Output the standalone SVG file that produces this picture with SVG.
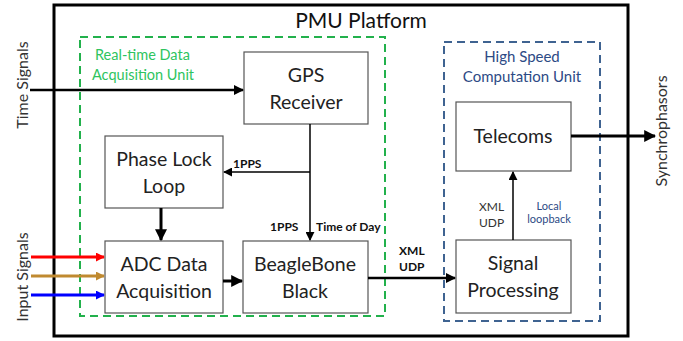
<svg xmlns="http://www.w3.org/2000/svg" width="683" height="341" viewBox="0 0 683 341">
<defs>
<style>
text{font-family:Lato,"Open Sans","Liberation Sans",sans-serif;}
.box{fill:#fff;stroke:#555;stroke-width:1.2;}
.lbl{font-size:19.5px;fill:#222;text-anchor:middle;}
.small{font-size:12px;font-weight:bold;fill:#111;}
.side{font-size:16px;fill:#333;text-anchor:middle;}
.ln{stroke:#000;fill:none;}
.grn{font-size:14.5px;fill:#2ec45e;}
.blu{font-size:15px;fill:#2d4a85;text-anchor:middle;}
</style>
<marker id="ah" viewBox="0 0 10 10" refX="9" refY="5" markerWidth="4" markerHeight="4" orient="auto"><path d="M0,0L10,5L0,10z" fill="#000"/></marker>
<marker id="ahs" viewBox="0 0 10 10" refX="9" refY="5" markerWidth="6" markerHeight="6" orient="auto"><path d="M0,0L10,5L0,10z" fill="#000"/></marker>
<marker id="ahr" viewBox="0 0 10 10" refX="9" refY="5" markerWidth="3" markerHeight="3" orient="auto"><path d="M0,0L10,5L0,10z" fill="#ff0000"/></marker>
<marker id="ahb" viewBox="0 0 10 10" refX="9" refY="5" markerWidth="3" markerHeight="3" orient="auto"><path d="M0,0L10,5L0,10z" fill="#c08a30"/></marker>
<marker id="ahu" viewBox="0 0 10 10" refX="9" refY="5" markerWidth="3" markerHeight="3" orient="auto"><path d="M0,0L10,5L0,10z" fill="#0000ff"/></marker>
</defs>
<rect width="683" height="341" fill="#fff"/>
<g id="platform">
<rect x="54" y="5" width="574" height="331" fill="none" stroke="#000" stroke-width="3"/>
<text x="361" y="28" font-size="21" text-anchor="middle" fill="#111">PMU Platform</text>
</g>
<g id="rt-unit">
<rect x="80" y="37" width="305" height="279" fill="none" stroke="#22b14c" stroke-width="2" stroke-dasharray="8,5"/>
<text class="grn" x="95" y="60">Real-time Data</text>
<text class="grn" x="92" y="80">Acquisition Unit</text>
</g>
<g id="hs-unit">
<rect x="444" y="42" width="156" height="279" fill="none" stroke="#3f6391" stroke-width="2" stroke-dasharray="8,5"/>
<text class="blu" x="522" y="62">High Speed</text>
<text class="blu" x="522" y="82">Computation Unit</text>
</g>
<g id="gps">
<rect class="box" x="244" y="52" width="124" height="72"/>
<text class="lbl" x="306" y="82">GPS</text>
<text class="lbl" x="306" y="109">Receiver</text>
</g>
<g id="pll">
<rect class="box" x="105" y="136" width="118" height="72"/>
<text class="lbl" x="164" y="166">Phase Lock</text>
<text class="lbl" x="164" y="193">Loop</text>
</g>
<g id="adc">
<rect class="box" x="105" y="241" width="118" height="72"/>
<text class="lbl" x="164" y="271">ADC Data</text>
<text class="lbl" x="164" y="298">Acquisition</text>
</g>
<g id="bbb">
<rect class="box" x="243" y="241" width="125" height="72"/>
<text class="lbl" x="305" y="271">BeagleBone</text>
<text class="lbl" x="305" y="298">Black</text>
</g>
<g id="telecoms">
<rect class="box" x="456" y="102" width="115" height="69"/>
<text class="lbl" x="513" y="143">Telecoms</text>
</g>
<g id="sp">
<rect class="box" x="456" y="240" width="115" height="73"/>
<text class="lbl" x="513" y="270">Signal</text>
<text class="lbl" x="513" y="297">Processing</text>
</g>
<g id="connectors">
<line class="ln" x1="30" y1="90" x2="243" y2="90" stroke-width="2.5" marker-end="url(#ah)"/>
<line class="ln" x1="310" y1="124" x2="310" y2="240" stroke-width="1.5" marker-end="url(#ahs)"/>
<line class="ln" x1="310" y1="172" x2="224" y2="172" stroke-width="1.5" marker-end="url(#ahs)"/>
<line class="ln" x1="161" y1="208" x2="161" y2="240" stroke-width="3" marker-end="url(#ah)"/>
<line class="ln" x1="223" y1="281" x2="242" y2="281" stroke-width="3" marker-end="url(#ah)"/>
<line class="ln" x1="368" y1="278" x2="455" y2="278" stroke-width="2.5" marker-end="url(#ah)"/>
<line class="ln" x1="513" y1="240" x2="513" y2="172" stroke-width="1.5" marker-end="url(#ahs)"/>
<line class="ln" x1="571" y1="136" x2="655" y2="136" stroke-width="3" marker-end="url(#ah)"/>
<line x1="31" y1="257" x2="104" y2="257" stroke="#ff0000" stroke-width="3" marker-end="url(#ahr)"/>
<line x1="31" y1="276" x2="104" y2="276" stroke="#c08a30" stroke-width="3" marker-end="url(#ahb)"/>
<line x1="31" y1="295" x2="104" y2="295" stroke="#0000ff" stroke-width="3" marker-end="url(#ahu)"/>
<text class="small" x="233" y="168">1PPS</text>
<text class="small" x="270" y="231">1PPS</text>
<text class="small" x="316" y="231">Time of Day</text>
<text class="small" x="399" y="255">XML</text>
<text class="small" x="399" y="271">UDP</text>
<text x="479" y="211" font-size="12" fill="#333">XML</text>
<text x="479" y="227" font-size="12" fill="#333">UDP</text>
<text x="549" y="210" font-size="11" fill="#2d4a85" text-anchor="middle">Local</text>
<text x="549" y="223" font-size="11" fill="#2d4a85" text-anchor="middle">loopback</text>
</g>
<text class="side" transform="translate(28,85) rotate(-90)">Time Signals</text>
<text class="side" transform="translate(28,277) rotate(-90)">Input Signals</text>
<text class="side" transform="translate(667,131) rotate(-90)">Synchrophasors</text>
</svg>
